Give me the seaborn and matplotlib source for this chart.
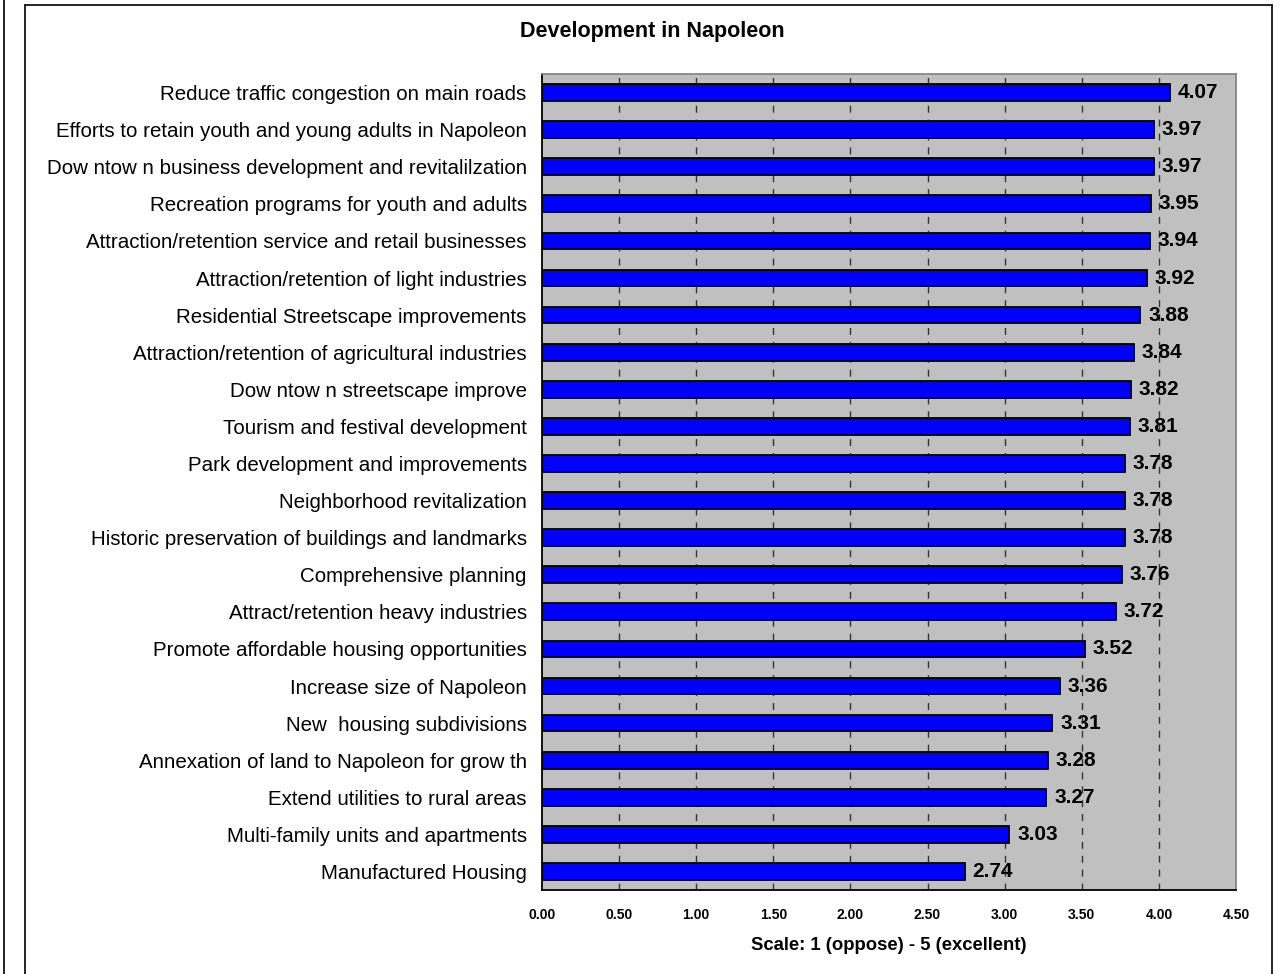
import matplotlib
matplotlib.use("Agg")
import matplotlib.pyplot as plt
import seaborn as sns
import pandas as pd
import numpy as np
from matplotlib.lines import Line2D

categories = [
    "Reduce traffic congestion on main roads",
    "Efforts to retain youth and young adults in Napoleon",
    "Dow ntow n business development and revitalilzation",
    "Recreation programs for youth and adults",
    "Attraction/retention service and retail businesses",
    "Attraction/retention of light industries",
    "Residential Streetscape improvements",
    "Attraction/retention of agricultural industries",
    "Dow ntow n streetscape improve",
    "Tourism and festival development",
    "Park development and improvements",
    "Neighborhood revitalization",
    "Historic preservation of buildings and landmarks",
    "Comprehensive planning",
    "Attract/retention heavy industries",
    "Promote affordable housing opportunities",
    "Increase size of Napoleon",
    "New  housing subdivisions",
    "Annexation of land to Napoleon for grow th",
    "Extend utilities to rural areas",
    "Multi-family units and apartments",
    "Manufactured Housing",
]
values = [4.07, 3.97, 3.97, 3.95, 3.94, 3.92, 3.88, 3.84, 3.82, 3.81, 3.78,
          3.78, 3.78, 3.76, 3.72, 3.52, 3.36, 3.31, 3.28, 3.27, 3.03, 2.74]
x_ticks = [0.0, 0.5, 1.0, 1.5, 2.0, 2.5, 3.0, 3.5, 4.0, 4.5]
title = "Development in Napoleon"
xlabel = "Scale: 1 (oppose) - 5 (excellent)"

df = pd.DataFrame({"item": categories, "score": values})

sns.set_theme(style="white")
plt.rcParams["font.family"] = ["Liberation Sans", "DejaVu Sans"]
plt.rcParams["text.color"] = "black"
plt.rcParams["axes.labelcolor"] = "black"
plt.rcParams["xtick.color"] = "black"
plt.rcParams["ytick.color"] = "black"

fig = plt.figure(figsize=(12.88, 9.74), dpi=100)
ax = fig.add_axes([542/1288, 1-890/974, (1236-542)/1288, (890-74)/974])
ax.set_facecolor("#C0C0C0")

sns.barplot(data=df, x="score", y="item", orient="h", color="#0000FF",
            saturation=1, edgecolor="black", linewidth=1.3, width=0.45, ax=ax, zorder=3)

ax.set_xlim(0, 4.5)
ax.set_ylim(len(categories) - 0.5, -0.5)
ax.set_xticks(x_ticks)
ax.set_xticklabels([f"{t:.2f}" for t in x_ticks], fontsize=10, fontweight="bold")
for t in x_ticks[1:-1]:
    ax.axvline(t, color="#333333", linewidth=1, linestyle=(0, (5, 5)), zorder=1)

ax.set_yticks(range(len(categories)))
ax.set_yticklabels(categories, fontsize=14.8)
ax.set_yticks(np.arange(-0.5, len(categories), 1.0), minor=True)
ax.tick_params(axis="y", which="major", length=0, pad=11)
ax.tick_params(axis="y", which="minor", length=5, width=1.2, color="black", direction="out")
ax.tick_params(axis="x", which="major", length=5, width=1.2, color="black", direction="out", pad=8)

ax.set_xlabel(xlabel, fontsize=13.3, fontweight="bold", labelpad=11)
ax.set_ylabel("")

for s in ["left", "bottom"]:
    ax.spines[s].set_color("black")
    ax.spines[s].set_linewidth(1.3)
for s in ["top", "right"]:
    ax.spines[s].set_color("#808080")
    ax.spines[s].set_linewidth(1.2)

for i, v in enumerate(values):
    ax.text(v + 0.05, i, f"{v:.2f}", va="center", ha="left", fontsize=15,
            fontweight="bold", color="black", zorder=4)

fig.text(652/1288, 1-32/974, title, ha="center", va="center", fontsize=15.5, fontweight="bold")

# outer frame
fig.add_artist(Line2D([25/1288, 25/1288], [0, 1-5/974], color="black", linewidth=1.2))
fig.add_artist(Line2D([25/1288, 1272/1288], [1-5/974, 1-5/974], color="black", linewidth=1.2))
fig.add_artist(Line2D([1272/1288, 1272/1288], [0, 1-5/974], color="black", linewidth=1.2))
fig.add_artist(Line2D([4/1288, 4/1288], [0, 1], color="black", linewidth=1.2))

fig.savefig("out.png", dpi=100)
